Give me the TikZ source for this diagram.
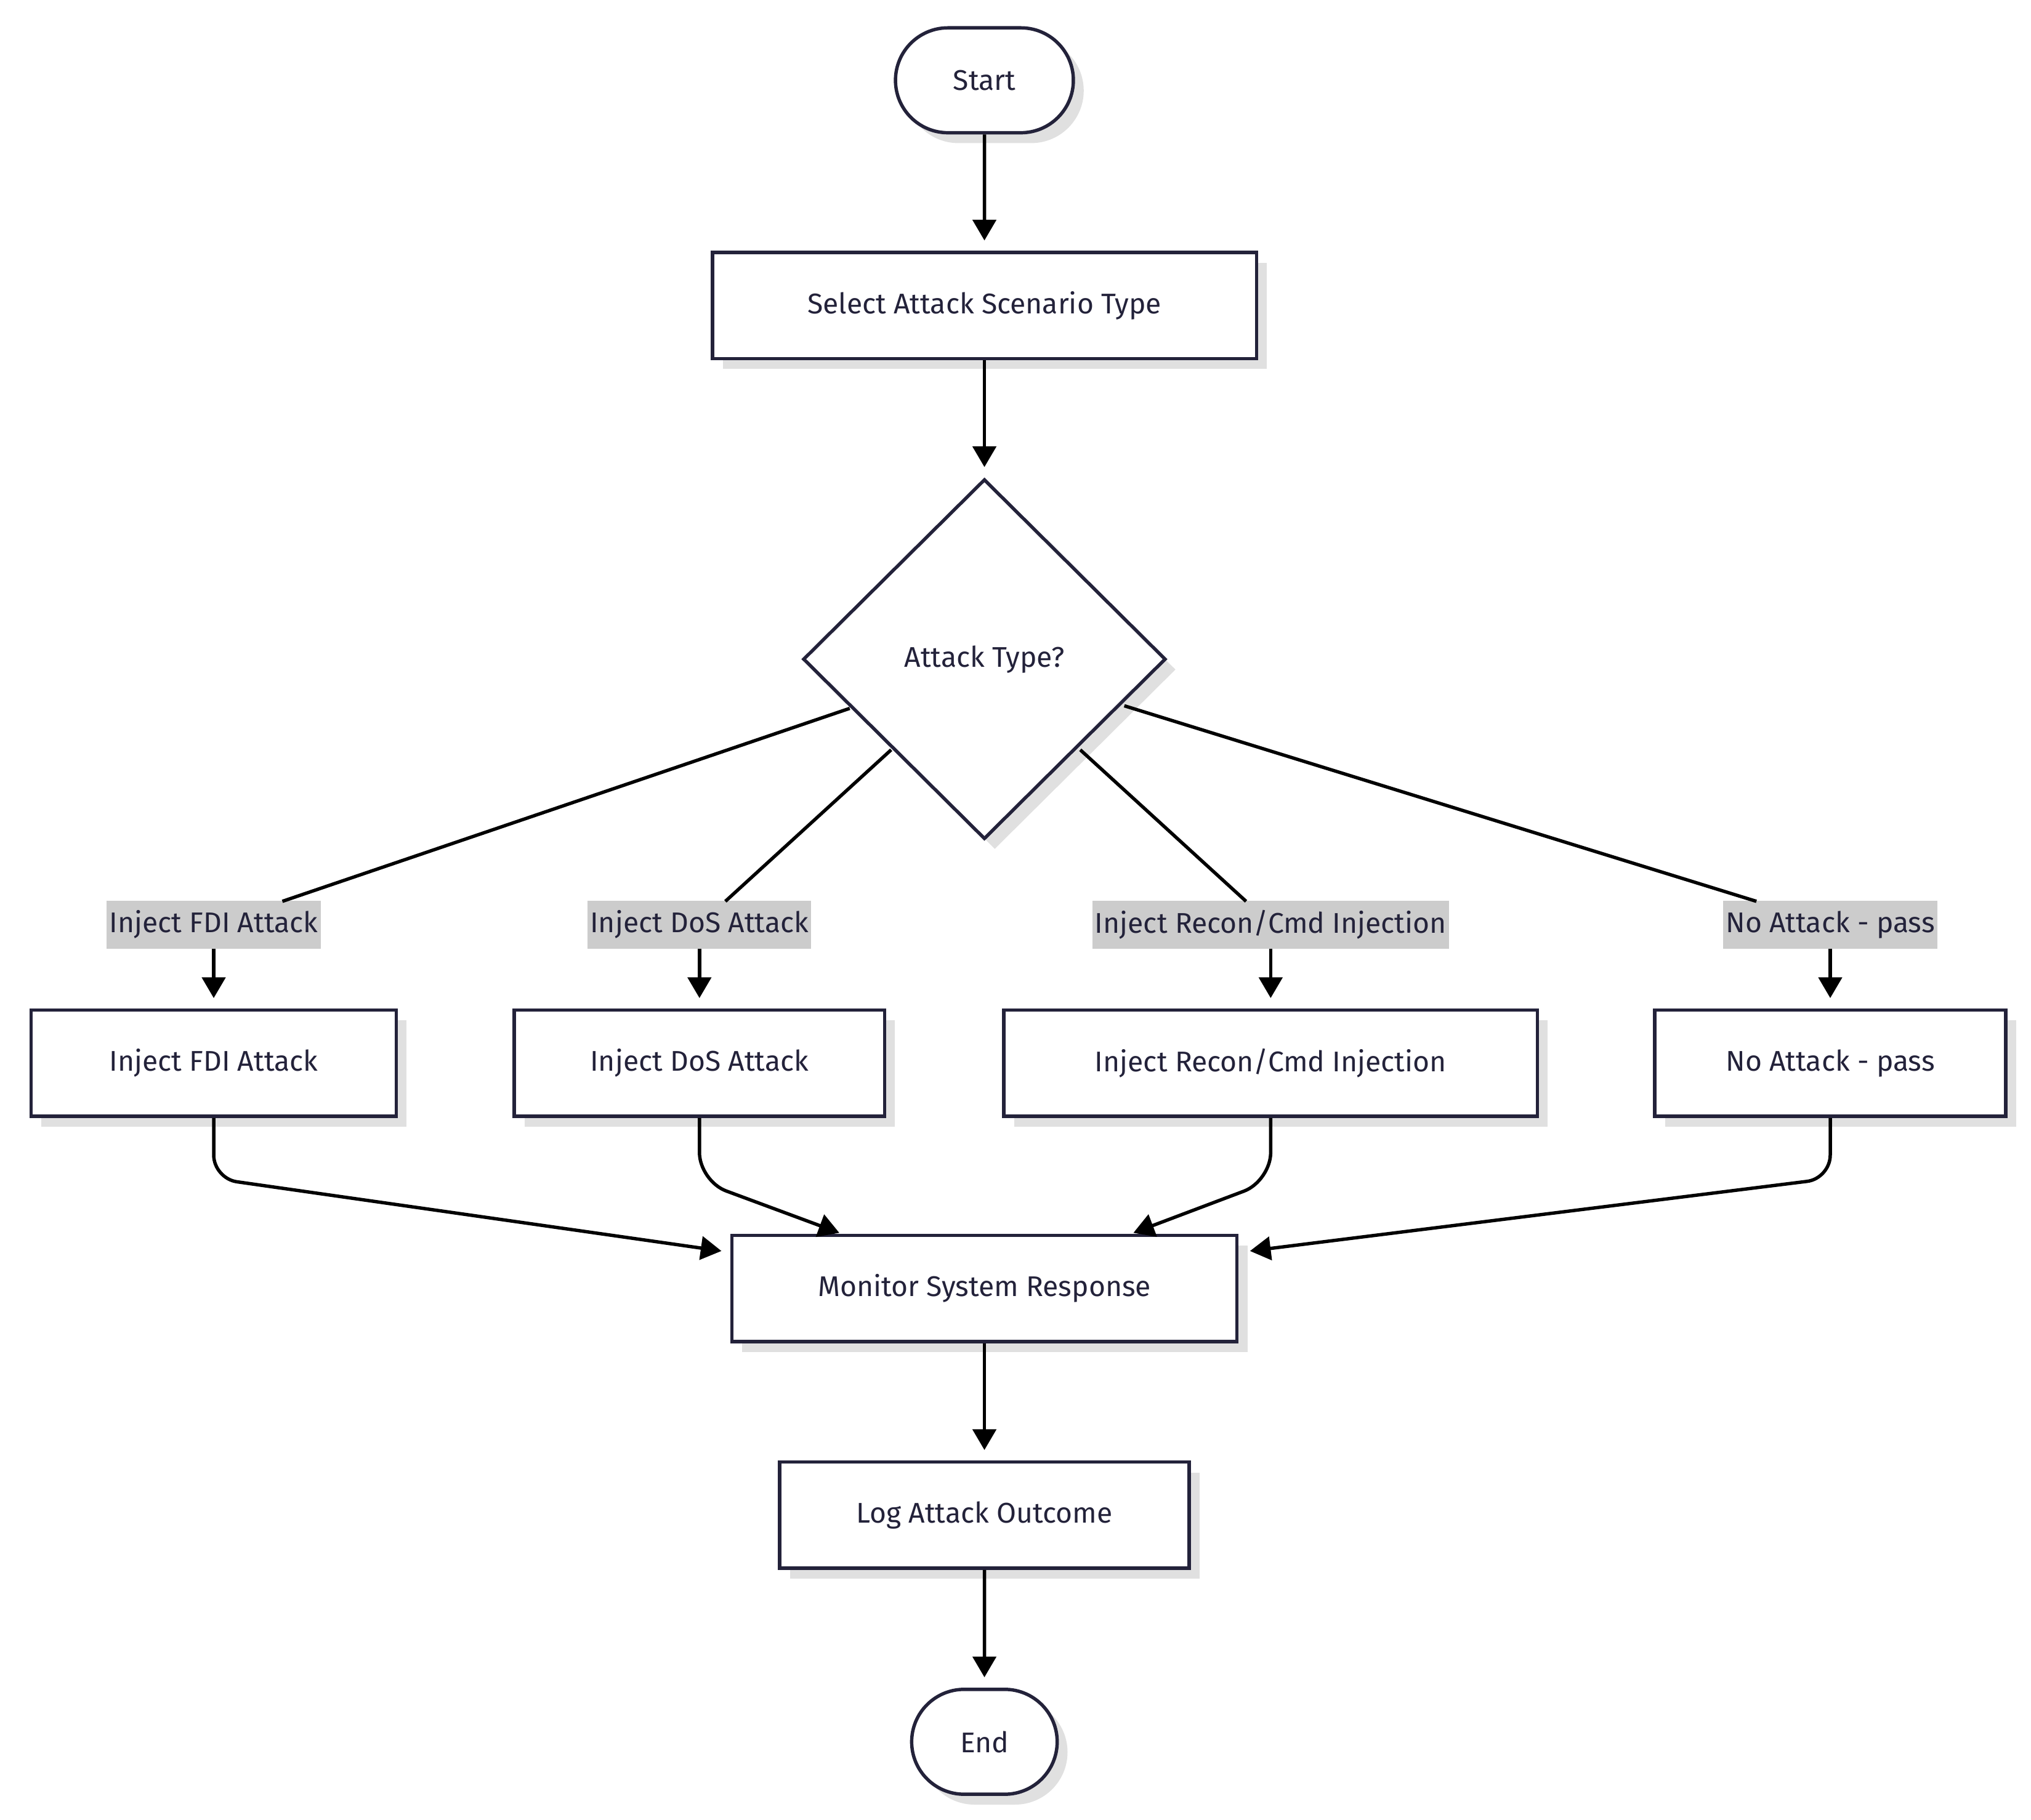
\documentclass[tikz,border=0pt]{standalone}
\usepackage{fontspec}
\setmainfont{Fira Sans}
\usetikzlibrary{shapes.geometric,shapes.misc,arrows.meta,shadows}
\definecolor{ink}{HTML}{23223A}
\begin{document}
\begin{tikzpicture}[x=1pt,y=-1pt,
 base/.style={draw=ink,line width=2.6pt,fill=white,text=ink,font=\fontsize{22}{26}\selectfont,
   drop shadow={shadow xshift=8pt,shadow yshift=-8pt,fill=black!12,opacity=1}},
 box/.style={base,rectangle,minimum height=82pt},
 term/.style={base,rounded rectangle,minimum height=81pt},
 lab/.style={fill=black!20,text=ink,font=\fontsize{22}{26}\selectfont,inner sep=2pt,minimum height=37pt},
 arr/.style={line width=2.6pt,-{Triangle[length=16pt,width=18pt]},shorten >=8pt},
 ln/.style={line width=2.6pt}]
\useasboundingbox (0,0) rectangle (1568,1405);
\node[term,minimum width=144pt] (start) at (760,62) {Start};
\node[box,minimum width=420pt] (sel) at (760,236) {Select Attack Scenario Type};
\node[base,diamond,minimum width=280pt,minimum height=278pt,inner sep=0pt] (dec) at (760,509) {Attack Type?};
\node[lab] (l1) at (165,714) {Inject FDI Attack};
\node[lab] (l2) at (540,714) {Inject DoS Attack};
\node[lab] (l3) at (981,714) {Inject Recon/Cmd Injection};
\node[lab] (l4) at (1413,714) {No Attack - pass};
\node[box,minimum width=282pt] (b1) at (165,821) {Inject FDI Attack};
\node[box,minimum width=286pt] (b2) at (540,821) {Inject DoS Attack};
\node[box,minimum width=412pt] (b3) at (981,821) {Inject Recon/Cmd Injection};
\node[box,minimum width=271pt] (b4) at (1413,821) {No Attack - pass};
\node[box,minimum width=390pt] (mon) at (760,995) {Monitor System Response};
\node[box,minimum width=316pt] (log) at (760,1170) {Log Attack Outcome};
\node[term,minimum width=119pt] (end) at (760,1345) {End};
\coordinate (d1) at (656,547);
\coordinate (d2) at (688,579);
\coordinate (d3) at (834,579);
\coordinate (d4) at (868,545);
\coordinate (t1) at (218,696);
\coordinate (t2) at (560,696);
\coordinate (t3) at (962,696);
\coordinate (t4) at (1356,696);
\coordinate (m1) at (557,966);
\coordinate (m2) at (648,952);
\coordinate (m3) at (875,952);
\coordinate (m4) at (965,966);
\draw[arr] (start) -- (sel);
\draw[arr] (sel) -- (dec);
\draw[ln] (d1) -- (t1);
\draw[ln] (d2) -- (t2);
\draw[ln] (d3) -- (t3);
\draw[ln] (d4) -- (t4);
\draw[arr] (l1) -- (b1);
\draw[arr] (l2) -- (b2);
\draw[arr] (l3) -- (b3);
\draw[arr] (l4) -- (b4);
\draw[ln,-{Triangle[length=16pt,width=18pt]},rounded corners=18pt] (b1.south) -- (165,910) -- (m1);
\draw[ln,-{Triangle[length=16pt,width=18pt]},rounded corners=22pt] (b2.south) -- (540,912) -- (m2);
\draw[ln,-{Triangle[length=16pt,width=18pt]},rounded corners=22pt] (b3.south) -- (981,912) -- (m3);
\draw[ln,-{Triangle[length=16pt,width=18pt]},rounded corners=18pt] (b4.south) -- (1413,910) -- (m4);
\draw[arr] (mon) -- (log);
\draw[arr] (log) -- (end);
\end{tikzpicture}
\end{document}
